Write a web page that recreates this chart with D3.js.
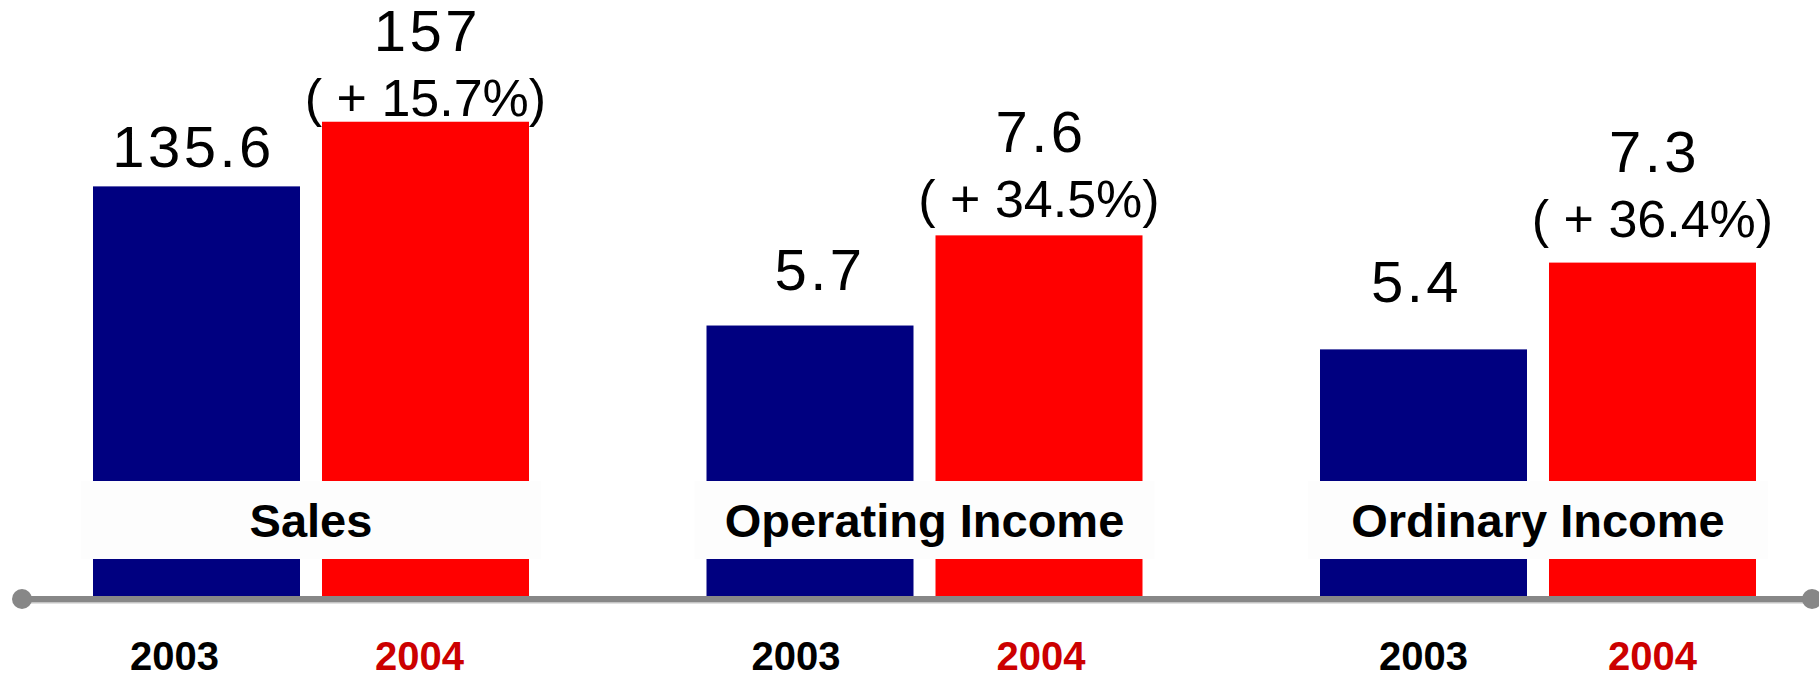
<!DOCTYPE html>
<html>
<head>
<meta charset="utf-8">
<script src="https://cdn.jsdelivr.net/npm/d3@7"></script>
<style>
  html, body { margin: 0; padding: 0; background: #fff; }
  svg { display: block; font-family: "Liberation Sans", Arial, sans-serif; }
</style>
</head>
<body>
<div id="chart"></div>
<script>
// ─── DATA ─────────────────────────────────────────────────────────────────────
const categories = ["Sales", "Operating Income", "Ordinary Income"];
const years = ["2003", "2004"];
const values2003 = [135.6, 5.7, 5.4];
const values2004 = [157, 7.6, 7.3];
const growthLabels = ["15.7%", "34.5%", "36.4%"];
// each group is drawn on its own scale (max value that reaches the top of the page)
const scaleMax = [197.3, 12.56, 13.05];

// ─── LAYOUT ───────────────────────────────────────────────────────────────────
const W = 1819, H = 677;
const baseY = 596;               // top of the grey axis bar
const bandTop = 481, bandBottom = 559;
const blueLift = [19, 36, 47];   // gap between 2003 bar top and its label baseline
const redLift = [6, 18, 26];     // gap between 2004 bar top and the % label baseline
const blueDx = [-5, 8, -9];
const yearDx = [[-22, -6], [-14, 2], [0, 0]];

const svg = d3.select("#chart")
  .append("svg")
  .attr("width", W)
  .attr("height", H);

// group scale + year scale inside a group
const x0 = d3.scaleBand()
  .domain(categories)
  .range([4.25, 4.25 + 3 * 613.5])
  .padding(0);

const groupInner = 436;
const x1 = d3.scaleBand()
  .domain(years)
  .range([0, groupInner])
  .paddingInner(22 / 229)
  .paddingOuter(0);

const groupStart = c => x0(c) + (x0.bandwidth() - groupInner) / 2;

const yScales = scaleMax.map(m => d3.scaleLinear().domain([0, m]).range([baseY, 0]));

const rows = categories.map((c, i) => ({
  cat: c,
  i,
  bars: [
    { year: "2003", value: values2003[i], color: "#000080" },
    { year: "2004", value: values2004[i], color: "#ff0000" }
  ]
}));

// bars
const groups = svg.selectAll(".grp")
  .data(rows)
  .join("g")
  .attr("class", "grp")
  .attr("transform", d => `translate(${groupStart(d.cat)},0)`);

groups.selectAll("rect.bar")
  .data(d => d.bars.map(b => ({ ...b, i: d.i })))
  .join("rect")
  .attr("class", "bar")
  .attr("x", d => x1(d.year))
  .attr("width", x1.bandwidth())
  .attr("y", d => yScales[d.i](d.value))
  .attr("height", d => baseY - yScales[d.i](d.value))
  .attr("fill", d => d.color);

// category label band
groups.append("rect")
  .attr("x", -12)
  .attr("width", groupInner + 24)
  .attr("y", bandTop)
  .attr("height", bandBottom - bandTop)
  .attr("fill", "#fdfdfd");

groups.append("text")
  .attr("x", groupInner / 2)
  .attr("y", 537)
  .attr("text-anchor", "middle")
  .style("font-size", "47px")
  .style("font-weight", "bold")
  .attr("fill", "#000")
  .text(d => d.cat);

// 2003 value labels
groups.append("text")
  .attr("x", d => x1("2003") + x1.bandwidth() / 2 + blueDx[d.i] + 2)
  .attr("y", d => yScales[d.i](values2003[d.i]) - blueLift[d.i])
  .attr("text-anchor", "middle")
  .style("font-size", "58px")
  .style("letter-spacing", "3.5px")
  .attr("fill", "#000")
  .text(d => values2003[d.i]);

// 2004 value + growth labels
groups.append("text")
  .attr("x", d => x1("2004") + x1.bandwidth() / 2 + 2)
  .attr("y", d => yScales[d.i](values2004[d.i]) - redLift[d.i] - 65)
  .attr("text-anchor", "middle")
  .style("font-size", "58px")
  .style("letter-spacing", "3.5px")
  .attr("fill", "#000")
  .text(d => values2004[d.i]);

groups.append("text")
  .attr("x", d => x1("2004") + x1.bandwidth() / 2)
  .attr("y", d => yScales[d.i](values2004[d.i]) - redLift[d.i])
  .attr("text-anchor", "middle")
  .style("font-size", "52px")
  .attr("fill", "#000")
  .text(d => `( + ${growthLabels[d.i]})`);

// year labels under the axis
groups.selectAll("text.year")
  .data(d => years.map((y, k) => ({ y, k, i: d.i })))
  .join("text")
  .attr("class", "year")
  .attr("x", d => x1(d.y) + x1.bandwidth() / 2 + yearDx[d.i][d.k])
  .attr("y", 670)
  .attr("text-anchor", "middle")
  .style("font-size", "40px")
  .style("font-weight", "bold")
  .attr("fill", d => d.k === 0 ? "#000" : "#cc0000")
  .text(d => d.y);

// axis bar with end dots
svg.append("rect")
  .attr("x", 22).attr("width", 1812 - 22)
  .attr("y", 602).attr("height", 1.5)
  .attr("fill", "#c4c4c4");
svg.append("rect")
  .attr("x", 22).attr("width", 1812 - 22)
  .attr("y", baseY).attr("height", 6)
  .attr("fill", "#878787");
svg.selectAll("circle.end")
  .data([22, 1812])
  .join("circle")
  .attr("class", "end")
  .attr("cx", d => d)
  .attr("cy", 599)
  .attr("r", 10)
  .attr("fill", "#878787");
</script>
</body>
</html>
